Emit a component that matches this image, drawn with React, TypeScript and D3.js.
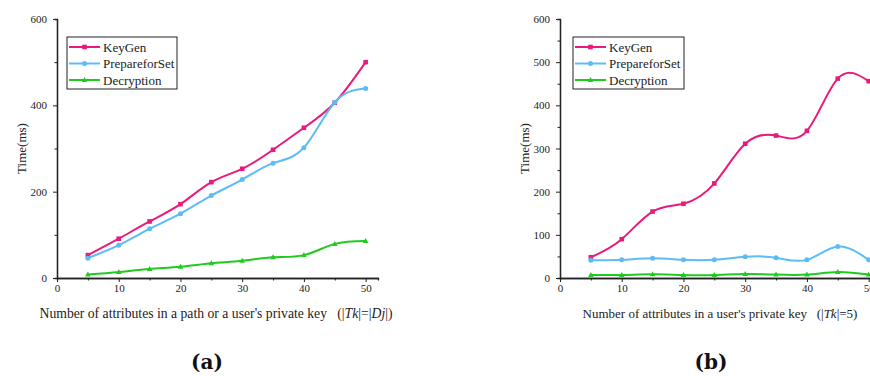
import React, { useRef, useEffect } from 'react';
import * as d3 from 'd3';

const xValues = [5, 10, 15, 20, 25, 30, 35, 40, 45, 50];

// panel (a)
const keyGenA = [53, 91, 131, 171, 222, 253, 297, 348, 406, 500];
const prepareA = [46, 76, 114, 149, 191, 228, 266, 302, 407, 439];
const decryptA = [8, 14, 21, 26, 34, 40, 48, 53, 79, 86];

// panel (b)
const keyGenB = [48, 90, 154, 172, 219, 311, 330, 341, 462, 456];
const prepareB = [41, 42, 46, 42, 42, 49, 47, 42, 73, 42];
const decryptB = [7, 7, 8.5, 7, 7, 9, 8, 8, 14, 8];

const seriesNames = ['KeyGen', 'PrepareforSet', 'Decryption'];
const seriesColors = ['#ea1a7b', '#5cbcf6', '#1ecb1e'];
const seriesMarkers = ['square', 'circle', 'triangle'];

const xMajorTicks = [0, 10, 20, 30, 40, 50];
const xMinorTicks = [5, 15, 25, 35, 45];
const yMajorA = [0, 200, 400, 600];
const yMinorA = [100, 300, 500];
const yMajorB = [0, 100, 200, 300, 400, 500, 600];
const yMinorB = [50, 150, 250, 350, 450, 550];

const FONT = '"Liberation Serif", "Times New Roman", serif';

type Panel = {
  left: number;
  legendX: number;
  legendW: number;
  series: number[][];
  yMajor: number[];
  yMinor: number[];
  yLabelX: number;
  xLabel: string[];
  xLabelX: number;
  xLabelSize: number;
  tag: string;
  tagX: number;
};

const panels: Panel[] = [
  {
    left: 57, legendX: 67, legendW: 110,
    series: [keyGenA, prepareA, decryptA],
    yMajor: yMajorA, yMinor: yMinorA, yLabelX: 26,
    xLabel: ["Number of attributes in a path or a user's private key   (|", 'Tk', '|=|', 'Dj', '|)'],
    xLabelX: 216, xLabelSize: 13.7, tag: '(a)', tagX: 207,
  },
  {
    left: 560, legendX: 573, legendW: 111,
    series: [keyGenB, prepareB, decryptB],
    yMajor: yMajorB, yMinor: yMinorB, yLabelX: 529,
    xLabel: ["Number of attributes in a user's private key   (|", 'Tk', '|=5)'],
    xLabelX: 720, xLabelSize: 13, tag: '(b)', tagX: 711,
  },
];

const drawMarker = (g, type, x, y, color) => {
  if (type === 'square') {
    g.append('rect').attr('x', x - 2.3).attr('y', y - 2.3).attr('width', 4.6).attr('height', 4.6).attr('fill', color);
  } else if (type === 'circle') {
    g.append('circle').attr('cx', x).attr('cy', y).attr('r', 2.5).attr('fill', color);
  } else {
    g.append('path').attr('d', `M${x},${y - 3}L${x + 2.8},${y + 2}L${x - 2.8},${y + 2}Z`).attr('fill', color);
  }
};

const App = () => {
  const svgRef = useRef(null);

  useEffect(() => {
    const svg = d3.select(svgRef.current);
    svg.selectAll('*').remove();

    const top = 19;
    const bottom = 278;

    panels.forEach(p => {
      const g = svg.append('g');
      const x = d3.scaleLinear().domain([0, 52]).range([p.left, p.left + 321]);
      const y = d3.scaleLinear().domain([0, 600]).range([bottom, top]);

      // axes
      const styleAxis = sel => {
        sel.select('.domain').attr('stroke', '#222').attr('stroke-width', 1.3);
        sel.selectAll('.tick line').attr('stroke', '#222').attr('stroke-width', 1);
        sel.selectAll('.tick text').attr('fill', '#222').style('font-family', FONT).style('font-size', '11px');
      };

      g.append('g').attr('transform', `translate(0,${bottom})`)
        .call(d3.axisBottom(x).tickValues(xMinorTicks).tickSize(2.5).tickFormat(() => ''))
        .call(styleAxis);
      g.append('g').attr('transform', `translate(0,${bottom})`)
        .call(d3.axisBottom(x).tickValues(xMajorTicks).tickSize(4).tickSizeOuter(0).tickPadding(2).tickFormat(d3.format('d')))
        .call(styleAxis);
      g.append('g').attr('transform', `translate(${p.left},0)`)
        .call(d3.axisLeft(y).tickValues(p.yMinor).tickSize(2.5).tickFormat(() => ''))
        .call(styleAxis);
      g.append('g').attr('transform', `translate(${p.left},0)`)
        .call(d3.axisLeft(y).tickValues(p.yMajor).tickSize(4).tickSizeOuter(0).tickPadding(6).tickFormat(d3.format('d')))
        .call(styleAxis);

      // lines
      const line = d3.line<number>()
        .x((d, i) => x(xValues[i]))
        .y(d => y(d))
        .curve(d3.curveNatural);

      p.series.forEach((vals, si) => {
        g.append('path').attr('d', line(vals)).attr('fill', 'none')
          .attr('stroke', seriesColors[si]).attr('stroke-width', 2);
        vals.forEach((v, i) => drawMarker(g, seriesMarkers[si], x(xValues[i]), y(v), seriesColors[si]));
      });

      // legend
      const lg = g.append('g');
      lg.append('rect').attr('x', p.legendX).attr('y', 37).attr('width', p.legendW).attr('height', 52)
        .attr('fill', 'white').attr('stroke', '#222').attr('stroke-width', 1);
      seriesNames.forEach((name, si) => {
        const ly = 47 + si * 16.5;
        lg.append('line').attr('x1', p.legendX + 2).attr('x2', p.legendX + 33).attr('y1', ly).attr('y2', ly)
          .attr('stroke', seriesColors[si]).attr('stroke-width', 2);
        drawMarker(lg, seriesMarkers[si], p.legendX + 17.5, ly, seriesColors[si]);
        lg.append('text').attr('x', p.legendX + 36).attr('y', ly + 4.5).text(name)
          .style('font-family', FONT).style('font-size', '13px').attr('fill', '#222');
      });

      // y label
      g.append('text').attr('transform', `translate(${p.yLabelX},${(top + bottom) / 2}) rotate(-90)`)
        .attr('text-anchor', 'middle').style('font-family', FONT).style('font-size', '13px')
        .attr('fill', '#222').text('Time(ms)');

      // x label
      const xl = g.append('text').attr('x', p.xLabelX).attr('y', 318).attr('text-anchor', 'middle')
        .style('font-family', FONT).style('font-size', `${p.xLabelSize}px`).style('white-space', 'pre').attr('fill', '#222');
      p.xLabel.forEach((part, i) => {
        xl.append('tspan').text(part).style('font-style', i % 2 === 1 ? 'italic' : 'normal');
      });

      // panel tag
      g.append('text').attr('x', p.tagX).attr('y', 369).attr('text-anchor', 'middle')
        .style('font-family', '"DejaVu Serif", serif').style('font-weight', 'bold').style('font-size', '20px')
        .attr('fill', '#111').text(p.tag);
    });
  }, []);

  return (
    <svg ref={svgRef} width={870} height={376}
      style={{ position: 'absolute', left: 0, top: 0, background: 'white' }} />
  );
};

export default App;
